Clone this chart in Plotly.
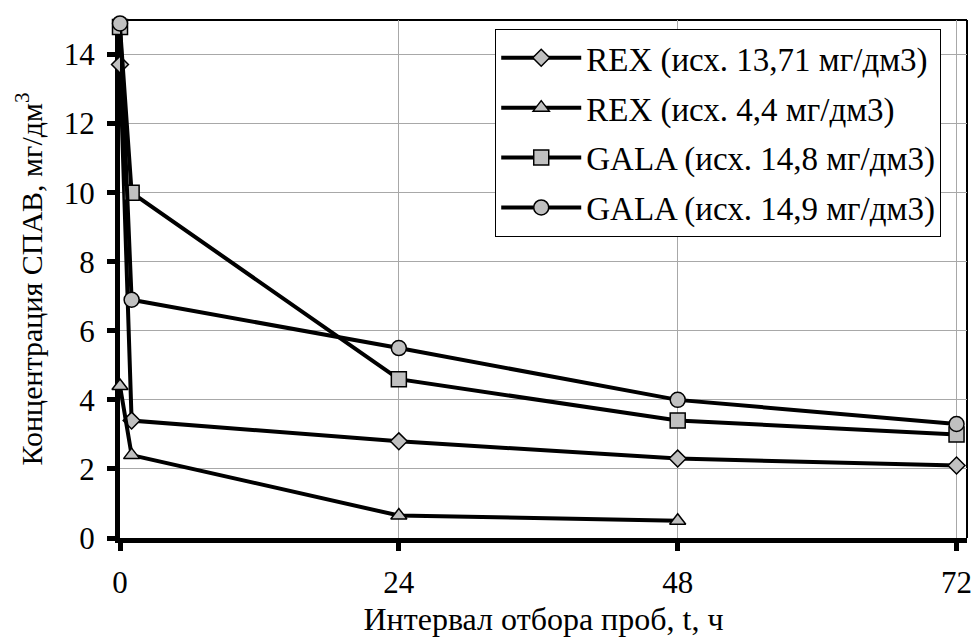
import plotly.graph_objects as go

x_rex1 = [0, 1, 24, 48, 72]
y_rex1 = [13.71, 3.4, 2.8, 2.3, 2.1]
x_rex2 = [0, 1, 24, 48]
y_rex2 = [4.4, 2.4, 0.65, 0.5]
x_gala1 = [0, 1, 24, 48, 72]
y_gala1 = [14.8, 10.0, 4.6, 3.4, 3.0]
x_gala2 = [0, 1, 24, 48, 72]
y_gala2 = [14.9, 6.9, 5.5, 4.0, 3.3]

names = ["REX (исх. 13,71 мг/дм3)", "REX (исх. 4,4 мг/дм3)",
         "GALA (исх. 14,8 мг/дм3)", "GALA (исх. 14,9 мг/дм3)"]
x_ticks = [0, 24, 48, 72]
y_ticks = [0, 2, 4, 6, 8, 10, 12, 14]

FONT = "Liberation Serif, Times New Roman, serif"
fill = "#c0c0c0"

series = [
    (x_rex1, y_rex1, "diamond", 13),
    (x_rex2, y_rex2, "triangle-up", 14),
    (x_gala1, y_gala1, "square", 15),
    (x_gala2, y_gala2, "circle", 15),
]

fig = go.Figure()
for i, ((xs, ys, sym, sz), nm) in enumerate(zip(series, names)):
    fig.add_trace(go.Scatter(
        x=xs, y=ys, name=nm, mode="lines+markers", legendgroup=f"g{i}",
        line=dict(color="black", width=4),
        marker=dict(symbol=sym, size=sz, color=fill,
                    line=dict(color="black", width=1.5)),
        cliponaxis=False,
    ))

fig.update_layout(
    width=974, height=637,
    margin=dict(l=120, r=7, t=20, b=99),
    paper_bgcolor="white", plot_bgcolor="white",
    font=dict(family=FONT, size=31, color="black"),
    showlegend=True,
    legend=dict(
        x=0.443, y=0.983, xanchor="left", yanchor="top",
        bgcolor="white", bordercolor="black", borderwidth=1,
        font=dict(family=FONT, size=33), itemwidth=80,
        tracegroupgap=4, entrywidth=476, entrywidthmode="pixels",
    ),
    xaxis=dict(
        range=[0, 72.9], tickvals=x_ticks, ticktext=[str(v) for v in x_ticks],
        showgrid=True, gridcolor="#a8a8a8", gridwidth=1,
        showline=True, linecolor="black", linewidth=5,
        ticks="outside", ticklen=8, tickwidth=5, tickcolor="black",
        zeroline=False, layer="below traces", ticklabelstandoff=5,
        automargin=False,
        tickfont=dict(family=FONT, size=31),
        title=dict(text="Интервал отбора проб, t, ч", standoff=18,
                   font=dict(family=FONT, size=32)),
    ),
    yaxis=dict(
        range=[0, 15], tickvals=y_ticks, ticktext=[str(v) for v in y_ticks],
        showgrid=True, gridcolor="#a8a8a8", gridwidth=1,
        showline=True, linecolor="black", linewidth=5,
        ticks="outside", ticklen=8, tickwidth=5, tickcolor="black",
        zeroline=False, layer="below traces", ticklabelstandoff=6,
        automargin=False,
        tickfont=dict(family=FONT, size=31),
        title=dict(text="Концентрация СПАВ, мг/дм<sup>3</sup>", standoff=14,
                   font=dict(family=FONT, size=30)),
    ),
    shapes=[
        dict(type="line", xref="paper", yref="paper", x0=0, x1=1, y0=1, y1=1,
             line=dict(color="black", width=2), layer="below"),
        dict(type="line", xref="paper", yref="paper", x0=1, x1=1, y0=0, y1=1,
             line=dict(color="black", width=2), layer="below"),
    ],
)

fig.write_html("out.html", config={"displayModeBar": False},
               post_script="document.body.style.margin='0';document.body.style.padding='0';")
